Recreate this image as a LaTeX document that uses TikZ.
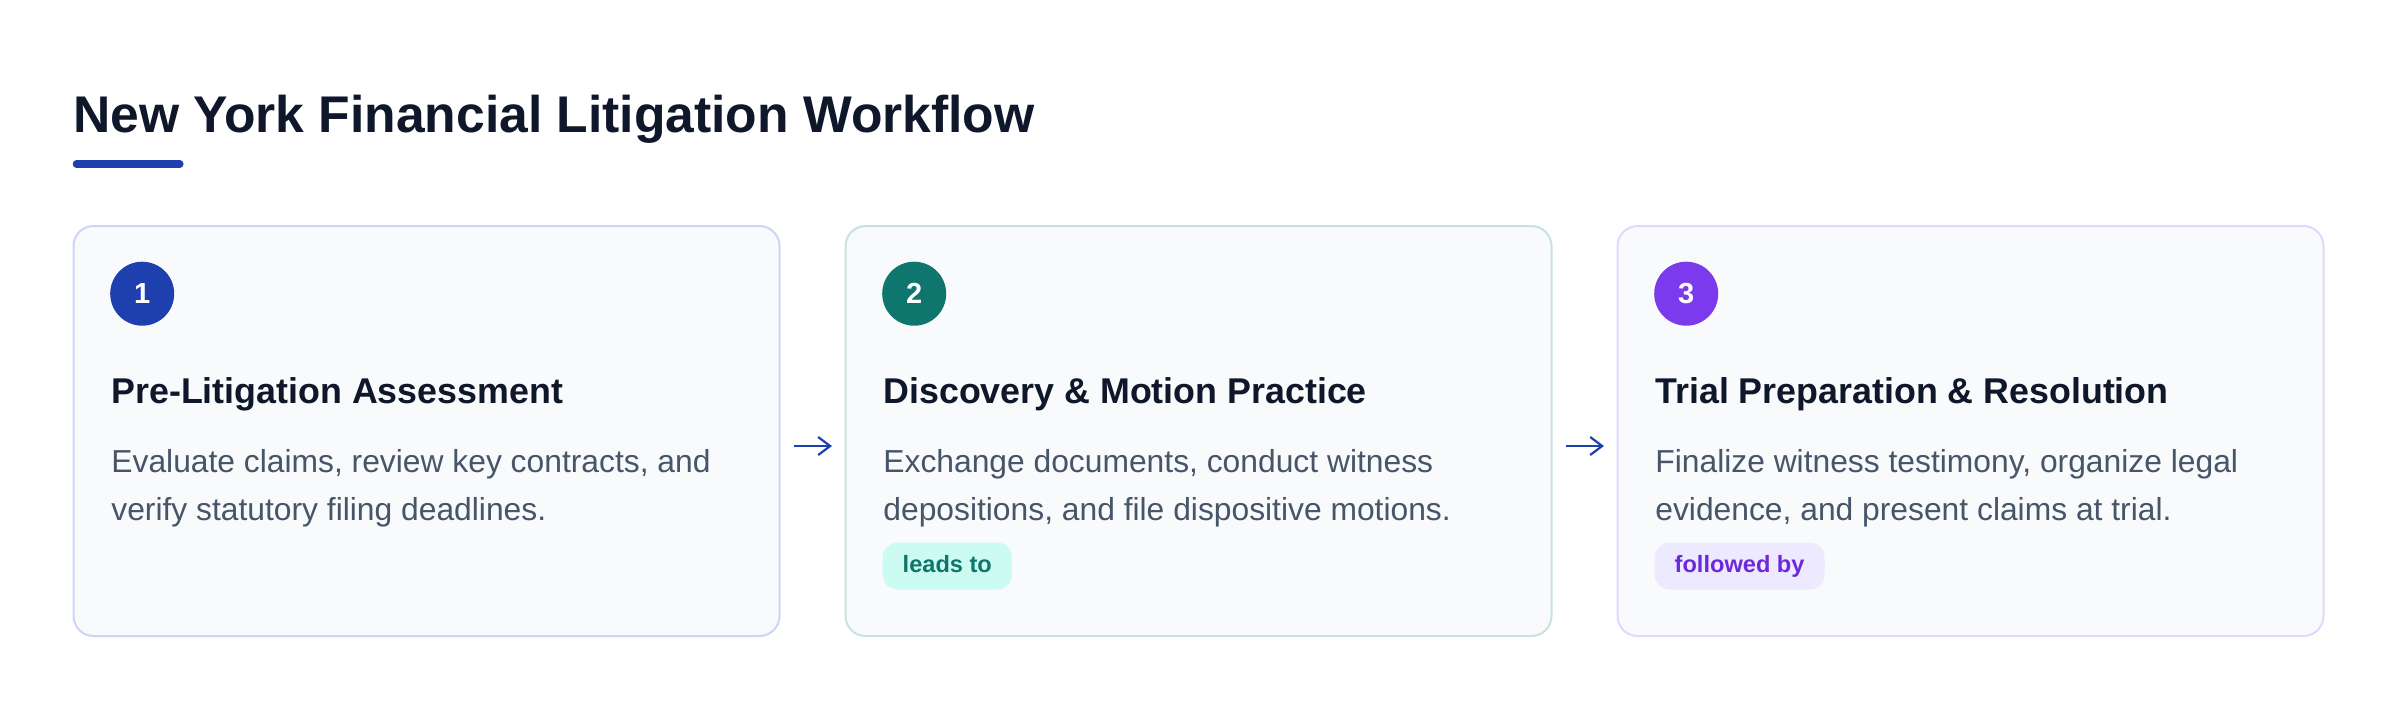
\documentclass[tikz,border=0pt]{standalone}
\usepackage{fontspec}
\setmainfont{Liberation Sans}
\usepackage{xcolor}
\usetikzlibrary{arrows.meta,positioning}
\definecolor{ink}{HTML}{0F172A}
\definecolor{muted}{HTML}{475569}
\definecolor{navy}{HTML}{1E40AF}
\definecolor{teal}{HTML}{0F766E}
\definecolor{violet}{HTML}{7C3AED}
\definecolor{cardbg}{HTML}{F8FAFC}
\definecolor{edgeA}{HTML}{CDD5F3}
\definecolor{edgeB}{HTML}{C8E3DF}
\definecolor{edgeC}{HTML}{E0D9FC}
\definecolor{tagB}{HTML}{CCFBF1}
\definecolor{tagC}{HTML}{EDE9FE}
\definecolor{tagCtext}{HTML}{6D28D9}

\begin{document}
\begin{tikzpicture}[x=0.5pt,y=-0.5pt,
    card/.style={draw=#1, line width=1pt, fill=cardbg, rounded corners=10pt,
      minimum width=353pt, minimum height=205pt, anchor=north west},
    num/.style={circle, fill=#1, minimum size=32pt, inner sep=0pt, text=white,
      font=\bfseries\fontsize{14.5}{14.5}\selectfont},
    head/.style={anchor=base west, inner sep=0pt, text=ink,
      font=\bfseries\fontsize{17.9}{20}\selectfont},
    desc/.style={anchor=base west, inner sep=0pt, align=left, text=muted,
      font=\fontsize{15.9}{23.8}\selectfont},
    tag/.style={anchor=west, fill=#1, rounded corners=7.5pt, inner xsep=10pt,
      inner ysep=0pt, minimum height=23.5pt, text height=8.7pt, text depth=2pt,
      font=\bfseries\fontsize{11.8}{12}\selectfont},
    flow/.style={draw=navy, line width=1.1pt, -{Straight Barb[length=6pt,width=9pt]},
      shorten <=6.75pt, shorten >=6.25pt}]
  \fill[white] (0,0) rectangle (2400,708);
  \useasboundingbox (0,0) rectangle (2400,708);

  \node[anchor=base west, inner sep=0pt, text=ink, font=\bfseries\fontsize{25.8}{30}\selectfont]
    (title) at (72.7,132.3) {New York Financial Litigation Workflow};
  \draw[navy, line width=3.75pt, line cap=round] (76.5,164) -- (179.8,164);

  \node[card=edgeA] (c1) at (72.5,225) {};
  \node[card=edgeB] (c2) at (844.5,225) {};
  \node[card=edgeC] (c3) at (1616.5,225) {};

  \node[num=navy] (n1) at (142.2,293.7) {1};
  \node[num=teal] (n2) at (914.2,293.7) {2};
  \node[num=violet] (n3) at (1686.2,293.7) {3};

  \node[head] (h1) at (111,403) {Pre-Litigation Assessment};
  \node[head] (h2) at (883,403) {Discovery \& Motion Practice};
  \node[head] (h3) at (1655,403) {Trial Preparation \& Resolution};

  \node[desc] (d1) at (111,520) {Evaluate claims, review key contracts, and\\verify statutory filing deadlines.};
  \node[desc] (d2) at (883,520) {Exchange documents, conduct witness\\depositions, and file dispositive motions.};
  \node[desc] (d3) at (1655,520) {Finalize witness testimony, organize legal\\evidence, and present claims at trial.};

  \node[tag=tagB, text=teal] (t2) at (882.3,566) {leads to};
  \node[tag=tagC, text=tagCtext] (t3) at (1654.3,566) {followed by};

  \draw[flow] ([yshift=-7.5pt]c1.east) -- ([yshift=-7.5pt]c2.west);
  \draw[flow] ([yshift=-7.5pt]c2.east) -- ([yshift=-7.5pt]c3.west);
\end{tikzpicture}
\end{document}
